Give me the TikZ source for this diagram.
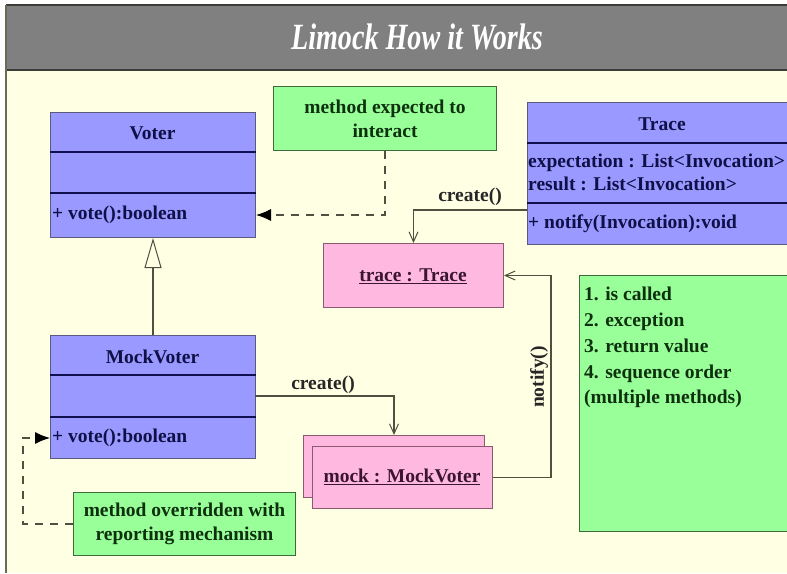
\documentclass[tikz,border=0pt]{standalone}
\usepackage{fontspec}
\usepackage{graphicx}
\setmainfont{Liberation Serif}
\usetikzlibrary{arrows.meta}
\definecolor{bg}{HTML}{FFFFE4}
\definecolor{titlegrey}{HTML}{808080}
\definecolor{titleline}{HTML}{3C3C38}
\definecolor{frameline}{HTML}{6A6A58}
\definecolor{classblue}{HTML}{9999FF}
\definecolor{classborder}{HTML}{5A5A80}
\definecolor{divline}{HTML}{101050}
\definecolor{classtext}{HTML}{101048}
\definecolor{notegreen}{HTML}{99FF99}
\definecolor{noteborder}{HTML}{3E6A3E}
\definecolor{notetext}{HTML}{0E300E}
\definecolor{objpink}{HTML}{FFB8E0}
\definecolor{objborder}{HTML}{8A5A70}
\definecolor{objtext}{HTML}{3A1430}
\definecolor{wire}{HTML}{505040}
\begin{document}
\begin{tikzpicture}[x=1pt,y=-1pt,
  bodyfont/.style={font=\fontsize{19.5}{24}\selectfont\bfseries},
  classbox/.style={draw=classborder, fill=classblue, line width=1pt, inner sep=0pt, anchor=north west},
  notebox/.style={draw=noteborder, fill=notegreen, line width=1pt, inner sep=0pt, anchor=north west},
  objbox/.style={draw=objborder, fill=objpink, line width=1pt, inner sep=0pt, anchor=north west},
  divider/.style={draw=divline, line width=2.5pt},
  ctext/.style={bodyfont, text=classtext, inner sep=0pt},
  ntext/.style={bodyfont, text=notetext, inner sep=0pt, align=center},
  otext/.style={bodyfont, text=objtext, inner sep=0pt},
  wtext/.style={bodyfont, text=black!85, inner sep=0pt},
  wirestyle/.style={draw=wire, line width=1.1pt},
  dashwire/.style={draw=wire, line width=1.1pt, dash pattern=on 8pt off 7pt},
  filledtip/.style={-{Latex[length=15pt,width=12pt,fill=black,color=black]}},
  opentip/.style={-{Straight Barb[length=10pt,width=9pt,line width=1pt]}},
  gentip/.style={-{Triangle[open,length=30pt,width=17pt,line width=1pt,fill=bg]}}
]
\useasboundingbox (0,0) rectangle (787,573);
\fill[white] (0,0) rectangle (787,573);
\fill[bg] (6,5) rectangle (787,573);
% title bar
\fill[titlegrey] (6,5) rectangle (787,70);
\draw[titleline, line width=2pt] (6,5) -- (787,5);
\draw[titleline, line width=2.5pt] (6,70) -- (787,70);
\draw[frameline, line width=1.5pt] (6,5) -- (6,573);
\node[text=white, inner sep=0pt, font=\fontsize{37}{40}\selectfont\bfseries\itshape] (title) at (417,37) {\scalebox{0.76}[1]{Limock How it Works}};

% Voter class
\node[classbox, minimum width=205pt, minimum height=125pt] (voter) at (50,112) {};
\draw[divider] (voter.west |- 0,152) -- (voter.east |- 0,152);
\draw[divider] (voter.west |- 0,193) -- (voter.east |- 0,193);
\node[ctext] (votername) at (152.5,133) {Voter};
\node[ctext, anchor=west] (votervote) at (52,215) {+ vote():boolean};

% MockVoter class
\node[classbox, minimum width=205pt, minimum height=123pt] (mockvoter) at (50,335) {};
\draw[divider] (mockvoter.west |- 0,375) -- (mockvoter.east |- 0,375);
\draw[divider] (mockvoter.west |- 0,417) -- (mockvoter.east |- 0,417);
\node[ctext] (mockvotername) at (152.5,357) {MockVoter};
\node[ctext, anchor=west] (mvvote) at (52,438) {+ vote():boolean};

% Trace class
\node[classbox, minimum width=272pt, minimum height=142pt] (traceclass) at (527,102) {};
\draw[divider] (traceclass.west |- 0,143) -- (traceclass.east |- 0,143);
\draw[divider] (traceclass.west |- 0,203) -- (traceclass.east |- 0,203);
\node[ctext] (tracename) at (662,124) {Trace};
\node[ctext, anchor=west] (traceexp) at (528,163) {expectation : List<Invocation>};
\node[ctext, anchor=west] (traceres) at (528,184) {result : List<Invocation>};
\node[ctext, anchor=west] (tracenotify) at (528,224) {+ notify(Invocation):void};

% notes
\node[notebox, minimum width=223pt, minimum height=64pt] (note1) at (273,86) {};
\node[ntext] (note1text) at (note1.center) {method expected to\\interact};
\node[notebox, minimum width=222pt, minimum height=63pt] (note2) at (73,492) {};
\node[ntext] (note2text) at (note2.center) {method overridden with\\reporting mechanism};
\node[notebox, minimum width=220pt, minimum height=256pt] (note3) at (579,275) {};
\node[font=\fontsize{19.5}{25.8}\selectfont\bfseries, text=notetext, inner sep=0pt, anchor=north west, align=left] (note3text) at (584,287)
  {1. is called\\2. exception\\3. return value\\4. sequence order\\(multiple methods)};

% objects
\node[objbox, minimum width=180pt, minimum height=64pt] (traceobj) at (323,243) {};
\node[otext] (traceobjtext) at (413,276) {\underline{trace : Trace}};
\node[objbox, minimum width=181pt, minimum height=62pt] (mockback) at (303,435) {};
\node[objbox, minimum width=180pt, minimum height=62pt] (mockfront) at (312,446) {};
\node[otext] (mockobjtext) at (402,477) {\underline{mock : MockVoter}};

% connectors
\coordinate (tracecreate) at (527,210);
\coordinate (mvcreate) at (255,396);
\coordinate (notifyx) at (551,0);
\coordinate (leftx) at (23,0);

\draw[dashwire, filledtip] (note1.south) |- (voter.east |- votervote);
\draw[wirestyle, gentip] (mockvoter.north) -- (voter.south);
\draw[wirestyle, opentip] (tracecreate) -| (traceobj.north);
\draw[wirestyle, opentip] (mvcreate) -| (mockback.north);
\draw[wirestyle, opentip] (mockfront.east) -| (notifyx |- traceobj.east) -- (traceobj.east);
\draw[dashwire, filledtip] (note2.west) -| (leftx |- mvvote) -- (mockvoter.west |- mvvote);

\node[wtext] (lblcreate1) at (470,197) {create()};
\node[wtext] (lblcreate2) at (323,385) {create()};
\node[wtext, rotate=90] (lblnotify) at (539,377) {notify()};
\end{tikzpicture}
\end{document}
